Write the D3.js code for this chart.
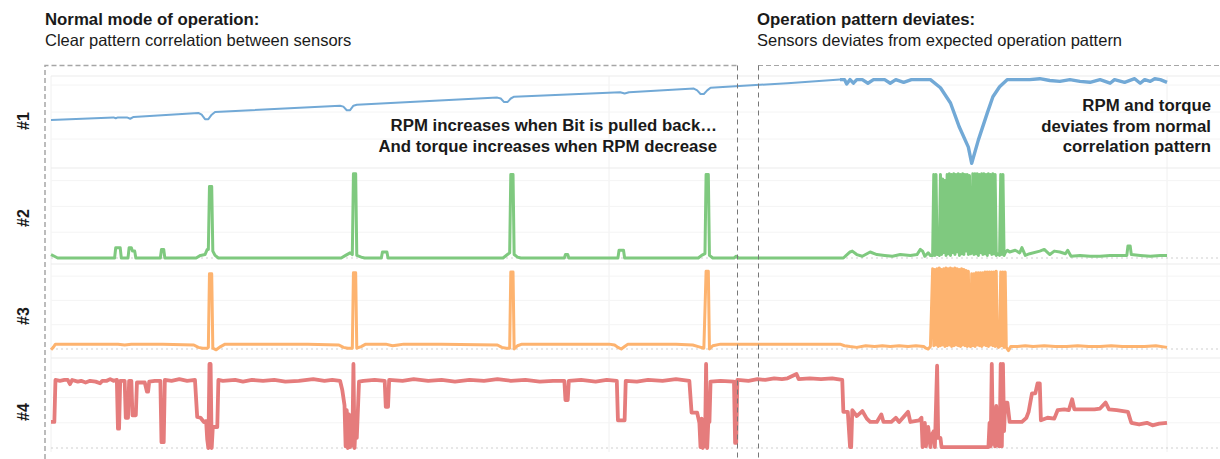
<!DOCTYPE html>
<html>
<head>
<meta charset="utf-8">
<script src="https://cdn.jsdelivr.net/npm/d3@7"></script>
<style>
body { margin: 0; background: #fff; }
text { font-family: "Liberation Sans", Arial, sans-serif; fill: #1a1a1a; }
</style>
</head>
<body>
<div id="chart"></div>
<script>
// sample index (0..1000) and value in % of each sensor's own range
var sensor1 = [[0,51],[56,54],[58,53],[60,54],[68,54],[71,52.5],[74,54.5],[132,59],[135,57],[138,52],[141,52],[144,57],[147,60],
  [259,67],[262,66],[265,62],[268,62],[271,67],[274,68],[400,76],[403,75],[406,71],[409,71],[412,75],[415,77],
  [510,82],[514,80.5],[518,82],[576,86],[579,84],[582,80],[585,80],[588,84],[591,87],[660,92],[707,96],
  [711,96],[713,91],[716,96],[719,92],[722,96],[727,96],[732,92],[737,96],[747,96],[752,92],[757,96],[764,93],[771,96],[779,96],
  [788,96],[797,87],[806,70],[814,43],[822,21],[825,3],[831,29],[839,59],[844,77],[850,88],[857,96],
  [877,96],[886,97],[895,95],[904,94],[913,96],[922,94],[931,93],[940,96],[949,92],[953,96],[962,93],[971,97],[976,92],
  [980,96],[985,94],[989,97],[994,96],[1000,93]];

var sensor2 = [[0,4],[3,2],[6,0],[57,0],[58,12],[62,12],[63,0],[69,0],[70,12],[72,12],[73,8],[75,8],[76,0],[98,0],[99,10],[101,10],[102,0],
  [130,0],[134,3],[138,4],[140,10],[141,10],[142,83],[144,83],[145,8],[147,3],[150,0],
  [260,0],[264,3],[268,6],[270,4],[271,98],[273,98],[274,3],[278,1],[281,0],[296,0],[297,7],[301,7],[302,0],
  [405,0],[409,4],[411,6],[412,97],[414,97],[415,4],[418,1],[421,0],[460,0],[461,4],[463,4],[464,0],[508,0],[509,9],[513,9],[514,0],
  [580,0],[583,3],[586,5],[587,97],[589,97],[590,3],[593,0],[612,0],[614,2],[616,0],
  [710,0],[716,7],[718,8],[722,4],[727,2],[734,7],[740,4],[747,3],[754,2],[761,4],[770,3],[776,4],[779,10],[781,8],[783,2],[786,6],[788,3],
  [790,3],[791,97],[792,3],[793,97],[794,4],[795,5],[796,3],[797,97],[798,4],[799,92],[800,6],[801,90],[802,3],[803,97],[804,5],[805,98],
  [806,3],[807,97],[808,6],[809,98],[810,4],[811,97],[812,7],[813,98],[814,3],[815,97],[816,5],[817,98],[818,4],[819,97],[820,8],[821,97],
  [822,4],[823,96],[824,5],[825,6],[826,98],[827,4],[828,98],[829,5],[830,98],[831,3],[832,97],[833,6],[834,98],[835,4],[836,98],[837,5],
  [838,97],[839,3],[840,98],[841,6],[842,97],[843,4],[844,98],[845,5],[846,97],[847,3],[848,5],[849,4],[850,3],[851,97],[852,4],[853,97],
  [854,3],[855,6],
  [857,9],[859,7],[864,9],[868,6],[870,12],[873,3],[877,5],[886,8],[890,10],[895,4],[899,8],[904,7],[909,5],[911,9],[914,2],
  [922,3],[931,2],[940,2],[949,3],[958,3],[964,3],[965,14],[967,14],[968,4],[976,3],[985,2],[994,3],[1000,3]];

var sensor3 = [[0,-1],[2,2],[4,6],[60,6],[66,5],[72,6],[100,6],[128,5],[132,2],[136,1],[140,1],[141,2],[142,93],[144,93],[145,1],[148,-1],
  [152,3],[156,6],[200,6],[230,6],[258,5],[262,2],[266,1],[270,1],[271,94],[273,94],[274,1],[278,3],[282,6],[300,6],[306,4],[311,5],[316,6],
  [350,6],[400,5],[404,2],[408,1],[411,1],[412,95],[414,95],[415,0],[418,4],[422,6],[450,6],[500,6],[505,5],[508,2],[511,0],[514,3],[517,6],
  [560,6],[575,5],[580,3],[585,1],[587,96],[589,96],[590,0],[593,4],[600,6],[650,6],[707,6],[711,4],[716,3],[722,2],[730,4],[738,3],
  [745,4],[752,3],[760,4],[768,3],[775,4],[782,3],[784,1],[786,0],[788,3],
  [790,99],[791,4],[792,98],[793,5],[794,99],[795,3],[796,100],[797,4],[798,98],[799,5],[800,99],[801,3],[802,100],[803,4],[804,99],
  [805,5],[806,100],[807,3],[808,99],[809,4],[810,100],[811,5],[812,99],[813,4],[814,98],[815,3],[816,99],[817,5],[818,98],[819,4],
  [820,97],[821,3],[822,96],[823,4],[824,3],[825,93],[826,4],[827,93],[828,3],[829,94],[830,5],[831,94],[832,4],[833,94],[834,3],
  [835,94],[836,5],[837,95],[838,4],[839,95],[840,3],[841,95],[842,5],[843,95],[844,4],[845,95],[846,3],[847,96],[848,4],[849,2],
  [850,3],[851,95],[852,4],[853,95],[854,2],[855,95],
  [856,2],[858,-2],[860,3],[866,3],[873,4],[880,3],[890,4],[900,3],[910,3],[920,4],[930,3],[940,3],[950,4],[960,3],[970,3],[980,3],
  [990,4],[1000,2]];

var sensor4 = [[0,31],[3,31],[4,81],[8,80],[12,81],[15,81],[17,76],[19,81],[24,79],[27,80],[31,78],[35,80],[40,79],[44,77],[46,80],
  [50,80],[53,82],[56,80],[59,81],[60,23],[61,23],[62,80],
  [66,80],[67,36],[69,36],[70,80],[72,80],[73,39],[76,39],[77,78],[84,78],[86,67],[87,67],[88,79],[93,80],[98,80],[99,7],[101,7],[102,81],
  [108,80],[115,82],[122,80],
  [129,81],[131,37],[134,36],[137,31],[139,32],[140,10],[141,0],[142,100],[143,100],[144,0],[145,25],[149,25],[150,81],[154,80],
  [165,81],[172,79],[180,81],[190,80],[200,81],[210,79],[222,80],[235,82],[245,80],[252,81],
  [259,80],[261,69],[263,51],[264,2],[265,45],[266,0],[267,40],[268,1],[269,38],[270,3],[271,100],[272,0],[273,30],[274,12],
  [275,45],[276,79],[280,80],[290,81],[299,80],[300,49],[302,49],[303,81],[315,80],[325,82],[338,80],[350,81],[362,79],[375,81],
  [388,80],[400,82],[412,80],[425,81],[438,79],[450,80],[460,80],[461,57],[463,57],[464,80],[475,81],[488,79],[498,81],
  [507,80],[508,33],[514,33],[515,80],[525,79],[535,81],[548,80],[560,82],[572,80],
  [574,42],[579,42],[581,30],[582,1],[583,35],[584,0],[585,30],[586,2],[587,100],[588,0],
  [589,32],[590,31],[591,79],[600,80],[612,79],[613,6],[614,6],[615,81],[625,80],[633,82],[640,81],[648,83],[655,82],[660,83],
  [668,88],[670,82],[680,83],[690,82],[700,83],[709,81],
  [710,43],[714,43],[716,1],[717,1],[718,45],[722,38],[727,44],[731,35],[734,31],[740,31],[744,40],[746,31],[753,31],[757,36],[760,31],
  [768,43],[770,31],[778,33],[780,36],[781,1],[783,30],[784,2],[786,25],[788,1],[789,15],[791,20],[792,1],[794,98],[795,12],[797,12],[798,1],
  [840,1],[841,30],[842,2],[843,100],[844,5],[845,45],[846,2],[847,50],[848,3],[849,40],[850,2],[851,100],[852,2],[853,100],[854,20],
  [855,54],[857,54],[859,31],[866,31],[870,31],[874,36],[876,43],[879,65],[882,65],[884,77],[886,77],[887,33],[893,36],[899,35],
  [902,45],[908,46],[912,45],[915,58],[917,46],[925,46],[935,46],[940,47],[945,54],[948,46],[955,45],[965,43],[968,30],[975,28],
  [982,30],[987,27],[993,29],[1000,30]];

var sensorNames = ["#1", "#2", "#3", "#4"];
var sensorColors = ["#72a9d6", "#7fc97f", "#fdb36f", "#e57c7c"];
var xTicks = [0, 500, 1000];
var yTicks = [0, 30, 60, 90];
var headerLeft = ["Normal mode of operation:", "Clear pattern correlation between sensors"];
var headerRight = ["Operation pattern deviates:", "Sensors deviates from expected operation pattern"];
var noteLeft = ["RPM increases when Bit is pulled back\u2026", "And torque increases when RPM decrease"];
var noteRight = ["RPM and torque", "deviates from normal", "correlation pattern"];

var width = 1220, height = 459;
var series = [sensor1, sensor2, sensor3, sensor4];
// pixel rows of each strip: value 0 at base, 100 at top
var panels = [
  { top: 76, base: 166, label: 121, sep: 76 },
  { top: 172, base: 258, label: 218, sep: 168 },
  { top: 268, base: 349, label: 316, sep: 264 },
  { top: 364, base: 448, label: 412, sep: 358 }
];
var strokes = [2, 3, 3, 3.8];

var svg = d3.select("#chart").append("svg")
  .attr("width", width)
  .attr("height", height);

var x = d3.scaleLinear().domain([0, 1000]).range([51, 1167]);

// vertical grid
svg.append("g").selectAll("line").data(xTicks).enter().append("line")
  .attr("x1", function (d) { return x(d); })
  .attr("x2", function (d) { return x(d); })
  .attr("y1", 76).attr("y2", 452)
  .attr("stroke", "#f0f0f0").attr("stroke-width", 1);

panels.forEach(function (p, i) {
  var y = d3.scaleLinear().domain([0, 100]).range([p.base, p.top]);
  var g = svg.append("g").attr("class", "panel");

  g.selectAll("line.grid").data(yTicks.slice(1)).enter().append("line")
    .attr("class", "grid")
    .attr("x1", x(0)).attr("x2", width)
    .attr("y1", function (d) { return y(d); })
    .attr("y2", function (d) { return y(d); })
    .attr("stroke", "#f4f4f4");

  g.append("line")
    .attr("x1", x(0)).attr("x2", width)
    .attr("y1", p.sep).attr("y2", p.sep)
    .attr("stroke", "#ebebeb");

  if (i > 0) {
    g.append("line")
      .attr("x1", x(0)).attr("x2", width)
      .attr("y1", y(0)).attr("y2", y(0))
      .attr("stroke", "#cfcfcf")
      .attr("stroke-dasharray", "2,3");
  }

  var line = d3.line()
    .x(function (d) { return x(d[0]); })
    .y(function (d) { return y(d[1]); });

  if (i == 0) {
    g.append("path")
      .datum(series[i].filter(function (d) { return d[0] <= 707; }))
      .attr("d", line)
      .attr("fill", "none").attr("stroke", sensorColors[i])
      .attr("stroke-width", 2).attr("stroke-linejoin", "round");
    g.append("path")
      .datum(series[i].filter(function (d) { return d[0] >= 707; }))
      .attr("d", line)
      .attr("fill", "none").attr("stroke", sensorColors[i])
      .attr("stroke-width", 3.4).attr("stroke-linejoin", "round");
  } else {
    g.append("path")
      .datum(series[i])
      .attr("d", line)
      .attr("fill", "none").attr("stroke", sensorColors[i])
      .attr("stroke-width", strokes[i]).attr("stroke-linejoin", "round");
  }

  svg.append("text")
    .attr("transform", "translate(23," + p.label + ") rotate(-90)")
    .attr("text-anchor", "middle")
    .attr("dominant-baseline", "central")
    .style("font-size", "16px").style("font-weight", "bold")
    .text(sensorNames[i]);
});

// dashed frames around both phases
var frames = svg.append("g").attr("fill", "none");
frames.append("path")
  .attr("d", "M45,459 L45,65.5 L737,65.5")
  .attr("stroke", "#a6a6a6").attr("stroke-width", 1.5).attr("stroke-dasharray", "5,3");
frames.append("path")
  .attr("d", "M758,65.5 L1220,65.5")
  .attr("stroke", "#a6a6a6").attr("stroke-width", 1.2).attr("stroke-dasharray", "5,3");
frames.append("line")
  .attr("x1", 737.5).attr("x2", 737.5).attr("y1", 65.5).attr("y2", 459)
  .attr("stroke", "#777").attr("stroke-width", 1).attr("stroke-dasharray", "5,4");
frames.append("line")
  .attr("x1", 758.5).attr("x2", 758.5).attr("y1", 65.5).attr("y2", 459)
  .attr("stroke", "#777").attr("stroke-width", 1).attr("stroke-dasharray", "5,4");

function header(lines, px) {
  svg.append("text").attr("x", px).attr("y", 25)
    .style("font-size", "16.8px").style("font-weight", "bold")
    .text(lines[0]);
  svg.append("text").attr("x", px).attr("y", 46)
    .style("font-size", "16.5px")
    .text(lines[1]);
}
header(headerLeft, 45);
header(headerRight, 757);

svg.append("g").selectAll("text").data(noteLeft).enter().append("text")
  .attr("x", 717).attr("y", function (d, i) { return 131 + i * 20.5; })
  .attr("text-anchor", "end")
  .style("font-size", "16.8px").style("font-weight", "bold")
  .text(function (d) { return d; });

svg.append("g").selectAll("text").data(noteRight).enter().append("text")
  .attr("x", 1211).attr("y", function (d, i) { return 111 + i * 20.5; })
  .attr("text-anchor", "end")
  .style("font-size", "16.8px").style("font-weight", "bold")
  .text(function (d) { return d; });
</script>
</body>
</html>
